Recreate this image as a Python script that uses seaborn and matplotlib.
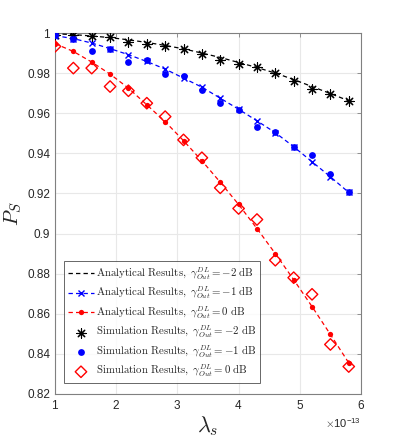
import numpy as np
import pandas as pd
import matplotlib
matplotlib.use("Agg")
import matplotlib.pyplot as plt
import seaborn as sns
from matplotlib.ticker import FixedLocator, FixedFormatter, ScalarFormatter

# ---------------- data ----------------
lam_e13 = [1.0, 1.3, 1.6, 1.9, 2.2, 2.5, 2.8, 3.1, 3.4, 3.7, 4.0, 4.3, 4.6, 4.9, 5.2, 5.5, 5.8]

ana_m2 = [0.9996, 0.9992, 0.9985, 0.9977, 0.9966, 0.9953, 0.9938, 0.9921, 0.9900,
          0.9878, 0.9853, 0.9828, 0.9800, 0.9768, 0.9733, 0.9698, 0.9662]
ana_m1 = [0.9987, 0.9972, 0.9950, 0.9922, 0.9892, 0.9858, 0.9820, 0.9775, 0.9730,
          0.9675, 0.9620, 0.9562, 0.9503, 0.9433, 0.9358, 0.9283, 0.9205]
ana_0 = [0.9947, 0.9908, 0.9855, 0.9795, 0.9725, 0.9642, 0.9558, 0.9463, 0.9363,
         0.9256, 0.9145, 0.9025, 0.8900, 0.8770, 0.8636, 0.8497, 0.8355]

sim_m2 = [0.9992, 0.9992, 0.9983, 0.9978, 0.9953, 0.9947, 0.9937, 0.9920, 0.9897,
          0.9863, 0.9847, 0.9830, 0.9800, 0.9762, 0.9722, 0.9697, 0.9662]
sim_m1 = [0.9992, 0.9972, 0.9912, 0.9920, 0.9853, 0.9863, 0.9797, 0.9787, 0.9717,
          0.9650, 0.9617, 0.9533, 0.9505, 0.9430, 0.9392, 0.9295, 0.9205]
sim_0 = [0.9933, 0.9825, 0.9825, 0.9733, 0.9712, 0.9650, 0.9583, 0.9467, 0.9378,
         0.9228, 0.9125, 0.9070, 0.8867, 0.8780, 0.8697, 0.8447, 0.8337]

y_ticks = [0.82, 0.84, 0.86, 0.88, 0.90, 0.92, 0.94, 0.96, 0.98, 1.00]
y_tick_labels = ['0.82', '0.84', '0.86', '0.88', '0.9', '0.92', '0.94', '0.96', '0.98', '1']
x_ticks_e13 = [1, 2, 3, 4, 5, 6]

labels = [
    r'$\mathrm{Analytical\ Results,}\ \gamma_{Out}^{DL} = -2\ \mathrm{dB}$',
    r'$\mathrm{Analytical\ Results,}\ \gamma_{Out}^{DL} = -1\ \mathrm{dB}$',
    r'$\mathrm{Analytical\ Results,}\ \gamma_{Out}^{DL} = 0\ \mathrm{dB}$',
    r'$\mathrm{Simulation\ Results,}\ \gamma_{Out}^{DL} = -2\ \mathrm{dB}$',
    r'$\mathrm{Simulation\ Results,}\ \gamma_{Out}^{DL} = -1\ \mathrm{dB}$',
    r'$\mathrm{Simulation\ Results,}\ \gamma_{Out}^{DL} = 0\ \mathrm{dB}$',
]

# ---------------- style ----------------
sns.set_style("white")
plt.rcParams['font.family'] = ['Liberation Sans', 'DejaVu Sans']
plt.rcParams['mathtext.fontset'] = 'cm'

lam = np.array(lam_e13) * 1e-13
df = pd.DataFrame({'lam': lam, 'a2': ana_m2, 'a1': ana_m1, 'a0': ana_0,
                   's2': sim_m2, 's1': sim_m1, 's0': sim_0})

fig = plt.figure(figsize=(3.99, 4.43), dpi=100)
ax = fig.add_axes([55 / 399, 49 / 443, 306 / 399, 361 / 443])

dash = (3.5, 2.5)
sns.lineplot(data=df, x='lam', y='a2', ax=ax, color='black', lw=0.9,
             label=labels[0], zorder=3)
sns.lineplot(data=df, x='lam', y='a1', ax=ax, color='blue', lw=0.9, marker='x',
             markersize=4.8, markeredgewidth=1.0, markeredgecolor='blue',
             label=labels[1], zorder=5)
sns.lineplot(data=df, x='lam', y='a0', ax=ax, color='red', lw=0.9, marker='o',
             markersize=3.8, markeredgewidth=0, markeredgecolor='red',
             label=labels[2], zorder=3)
for ln in ax.get_lines():
    ln.set_dashes(dash)

sns.scatterplot(data=df, x='lam', y='s2', ax=ax, color='black', marker=(8, 2, 0),
                s=45, linewidth=0.8, label=labels[3], zorder=4)
sns.scatterplot(data=df, x='lam', y='s1', ax=ax, color='blue', marker='o',
                s=24, linewidth=0, label=labels[4], zorder=4)
sns.scatterplot(data=df, x='lam', y='s0', ax=ax, marker='D', s=34,
                facecolor='none', edgecolor='red', linewidth=1.0,
                label=labels[5], zorder=4)

ax.set_xlim(1e-13, 6e-13)
ax.set_ylim(0.82, 1.0)
ax.xaxis.set_major_locator(FixedLocator([v * 1e-13 for v in x_ticks_e13]))
fmt = ScalarFormatter(useMathText=True)
fmt.set_powerlimits((0, 0))
ax.xaxis.set_major_formatter(fmt)
ax.yaxis.set_major_locator(FixedLocator(y_ticks))
ax.yaxis.set_major_formatter(FixedFormatter(y_tick_labels))

ax.grid(True, color='#e8e8e8', lw=0.8)
ax.set_axisbelow(True)
for sp in ax.spines.values():
    sp.set_color('#808080')
    sp.set_linewidth(0.8)
ax.tick_params(direction='in', length=3, width=0.6, colors='#808080',
               labelcolor='#262626', labelsize=8.5, top=True, right=True)
ax.xaxis.get_offset_text().set_fontsize(8)
ax.xaxis.get_offset_text().set_color('#262626')

ax.set_xlabel(r'$\lambda_s$', fontsize=16, labelpad=2)
ax.set_ylabel(r'$P_S$', fontsize=15, labelpad=2)

leg = ax.legend(loc='lower left', bbox_to_anchor=(0.03, 0.03), fontsize=7.8,
                handlelength=2.4, handletextpad=0.15, labelspacing=0.3,
                borderpad=0.35, frameon=True, fancybox=False, borderaxespad=0)
leg.get_frame().set_edgecolor('#404040')
leg.get_frame().set_linewidth(0.7)

fig.savefig('out.png', dpi=100)
